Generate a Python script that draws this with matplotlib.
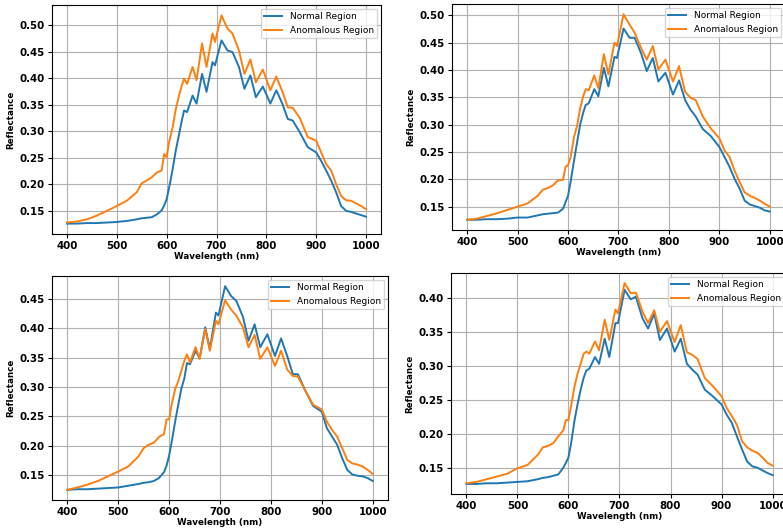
#!/usr/bin/env python3
"""Normal vs anomalous reflectance spectra, four sample panels."""
import matplotlib
matplotlib.use("Agg")
import matplotlib.pyplot as plt

# wavelength sample points (nm), shared by every panel
wavelength = [400, 420, 440, 460, 480, 500, 520, 540, 550, 560, 570, 580, 590, 595,
              600, 605, 612, 618, 624, 630, 635, 641, 652, 660, 671, 680, 692, 697,
              710, 722, 732, 745, 756, 768, 779, 793, 808, 820, 832, 843, 853, 867,
              883, 900, 910, 920, 930, 940, 950, 960, 970, 980, 990, 1000]

# panel 1 (top left)
normal_1 = [.126, .126, .127, .127, .128, .129, .131, .134, .136, .137, .138, .143, .151, .160,
            .172, .194, .228, .262, .290, .318, .339, .336, .367, .352, .408, .374, .430, .424,
            .471, .452, .449, .421, .380, .405, .364, .384, .352, .377, .352, .323, .320, .298,
            .270, .260, .244, .226, .207, .185, .159, .150, .148, .145, .142, .139]
anomalous_1 = [.128, .130, .134, .141, .150, .159, .169, .185, .202, .207, .213, .222, .226, .257,
               .251, .280, .307, .340, .364, .385, .399, .389, .421, .396, .465, .421, .484, .468,
               .518, .493, .484, .452, .408, .435, .392, .416, .377, .403, .375, .345, .344, .325,
               .289, .282, .260, .238, .226, .200, .178, .170, .169, .164, .159, .153]

# panel 2 (top right)
normal_2 = [.126, .126, .127, .127, .128, .130, .130, .134, .136, .137, .138, .139, .146, .158,
            .170, .195, .235, .268, .300, .322, .336, .339, .365, .352, .404, .370, .424, .422,
            .476, .459, .459, .430, .398, .422, .379, .395, .355, .381, .345, .327, .315, .292,
            .279, .259, .241, .223, .201, .183, .161, .154, .151, .148, .143, .141]
anomalous_2 = [.126, .128, .133, .138, .144, .150, .156, .170, .181, .184, .189, .198, .199, .223,
               .226, .240, .278, .298, .330, .352, .365, .363, .390, .367, .429, .392, .450, .444,
               .502, .483, .468, .440, .419, .444, .401, .419, .379, .407, .360, .349, .345, .315,
               .293, .275, .253, .241, .216, .195, .176, .170, .166, .161, .155, .150]

# panel 3 (bottom left)
normal_3 = [.125, .126, .126, .127, .128, .129, .132, .135, .137, .138, .140, .145, .155, .166,
            .183, .206, .242, .270, .297, .315, .341, .339, .362, .349, .402, .365, .427, .422,
            .472, .455, .447, .420, .379, .407, .368, .390, .353, .383, .353, .322, .322, .295,
            .268, .258, .230, .216, .202, .179, .159, .151, .149, .148, .145, .140]
anomalous_3 = [.125, .129, .134, .140, .148, .156, .165, .182, .196, .202, .205, .215, .220, .245,
               .245, .270, .297, .310, .328, .345, .356, .342, .368, .348, .399, .362, .413, .407,
               .448, .432, .422, .402, .368, .389, .348, .368, .336, .362, .330, .319, .318, .295,
               .270, .262, .241, .227, .216, .196, .176, .170, .168, .165, .159, .152]

# panel 4 (bottom right)
normal_4 = [.126, .126, .127, .127, .128, .129, .130, .133, .135, .136, .138, .140, .150, .157,
            .165, .185, .220, .244, .265, .283, .293, .296, .313, .303, .340, .313, .363, .363,
            .412, .398, .402, .370, .355, .377, .338, .355, .321, .340, .303, .294, .287, .265,
            .255, .243, .228, .216, .196, .177, .159, .152, .150, .146, .142, .139]
anomalous_4 = [.127, .129, .133, .137, .141, .149, .154, .169, .180, .182, .186, .196, .205, .220,
               .220, .240, .270, .289, .303, .318, .321, .318, .336, .323, .368, .338, .383, .377,
               .422, .407, .408, .380, .363, .382, .350, .366, .335, .360, .320, .316, .310, .282,
               .270, .255, .238, .226, .213, .189, .180, .175, .172, .165, .157, .153]

W, H = 783, 529
# axes boxes in pixels: left, top, right, bottom (right panels run past the edge)
boxes = [(52, 5, 381, 234), (452, 4, 785, 230), (52, 276, 388, 500), (451, 273, 788, 494)]
panels = [(normal_1, anomalous_1), (normal_2, anomalous_2),
          (normal_3, anomalous_3), (normal_4, anomalous_4)]

fig = plt.figure(figsize=(W / 100, H / 100), dpi=100)
for (l, t, r, b), (norm, anom) in zip(boxes, panels):
    ax = fig.add_axes([l / W, 1 - b / H, (r - l) / W, (b - t) / H])
    ax.plot(wavelength, norm, color="tab:blue", lw=1.4, label="Normal Region")
    ax.plot(wavelength, anom, color="tab:orange", lw=1.4, label="Anomalous Region")
    ax.set_xticks([400, 500, 600, 700, 800, 900, 1000])
    ax.set_xlabel("Wavelength (nm)", fontsize=6.3, fontweight="bold", labelpad=1)
    ax.set_ylabel("Reflectance", fontsize=6.3, fontweight="bold", labelpad=3)
    for lab in ax.get_xticklabels() + ax.get_yticklabels():
        lab.set_fontweight("bold")
    ax.tick_params(labelsize=7.4, length=3, pad=2)
    ax.grid(True, color="#b0b0b0", lw=0.8)
    ax.legend(loc="upper right", fontsize=6.5, borderaxespad=0.4)

fig.savefig("out.png", dpi=100)
